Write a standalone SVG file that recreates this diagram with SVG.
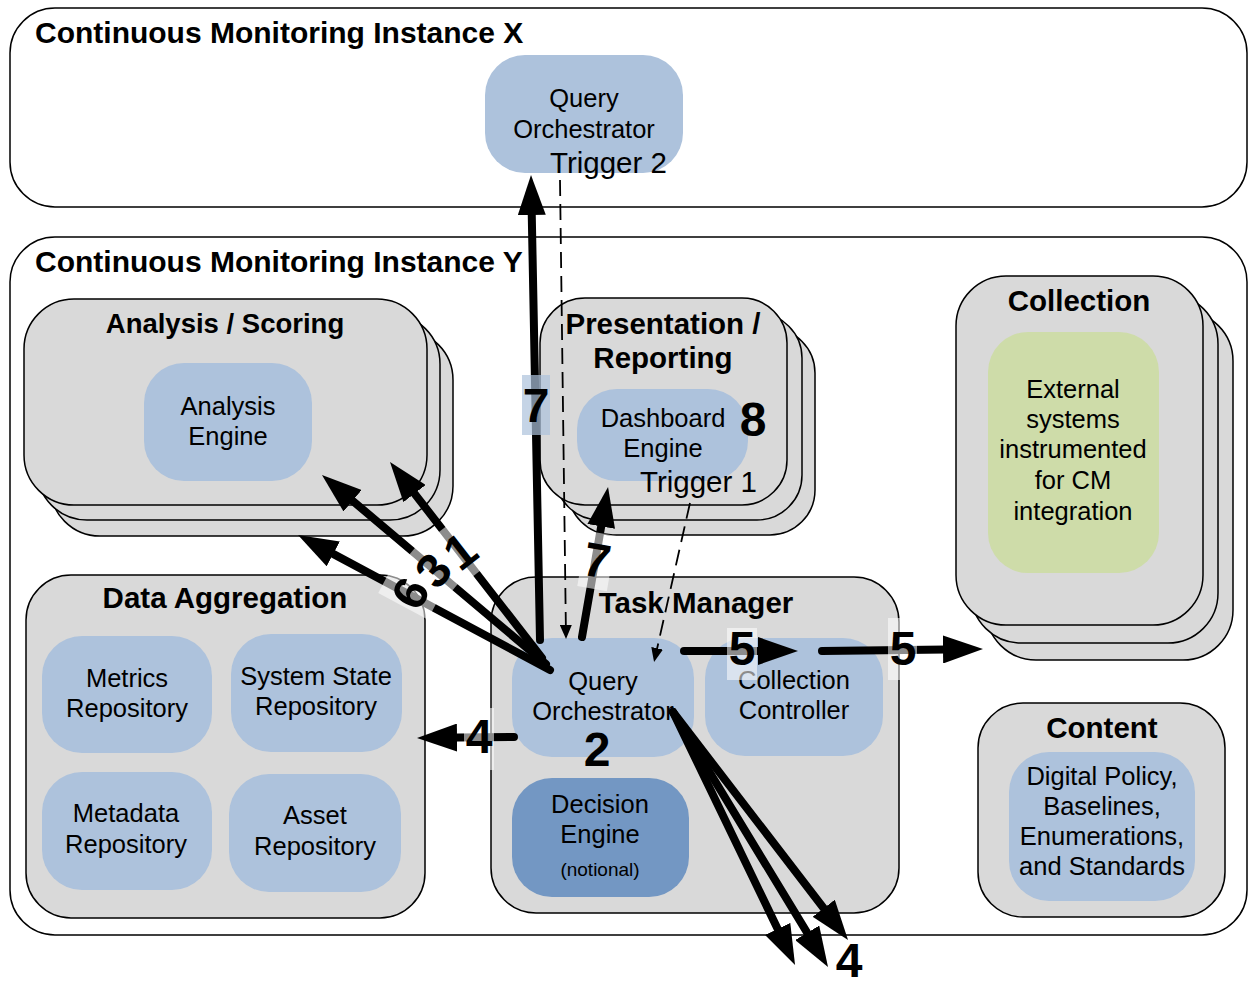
<svg xmlns="http://www.w3.org/2000/svg" width="1249" height="981" viewBox="0 0 1249 981">
<defs>
<marker id="ah" markerUnits="userSpaceOnUse" markerWidth="40" markerHeight="28" refX="24" refY="14" orient="auto"><path d="M0,0 L40,14 L0,28 Z" fill="#000"/></marker>
<marker id="ahs" markerUnits="userSpaceOnUse" markerWidth="14" markerHeight="12" refX="12" refY="6" orient="auto"><path d="M0,0 L14,6 L0,12 Z" fill="#000"/></marker>
</defs>
<style>
.c{fill:#fff;stroke:#000;stroke-width:1.5}
.g{fill:#d9d9d9;stroke:#000;stroke-width:1.5}
.b{fill:#adc2dc}
.db{fill:#7397c3}
.gr{fill:#cedca9}
text{font-family:"Liberation Sans",Arial,sans-serif;fill:#000}
.t{font-size:30px;font-weight:bold}
.tm{font-size:29.5px;font-weight:bold;text-anchor:middle}
.l{font-size:25.5px;text-anchor:middle}
.tr{font-size:29.5px}
.n{font-size:48px;font-weight:bold;text-anchor:middle}
.th{stroke:#000;stroke-width:8;fill:none;stroke-linecap:round;marker-end:url(#ah)}
.ds{stroke:#000;stroke-width:1.8;fill:none;stroke-dasharray:16 8;marker-end:url(#ahs)}
.lb{fill:#fff;opacity:0.55}
.lbb{fill:#adc2dc;opacity:0.7}
</style>
<rect width="1249" height="981" fill="#fff"/>

<g id="instance-x">
<rect class="c" x="10" y="8" width="1237" height="199" rx="45"/>
<text class="t" x="35" y="43">Continuous Monitoring Instance X</text>
</g>
<g id="query-orchestrator-x">
<rect class="b" x="485" y="55" width="198" height="118" rx="40"/>
<text class="l" x="584" y="107">Query</text>
<text class="l" x="584" y="138">Orchestrator</text>
<text class="tr" x="550" y="173">Trigger 2</text>
</g>

<g id="instance-y">
<rect class="c" x="10" y="237" width="1237" height="698" rx="45"/>
<text class="t" x="35" y="272">Continuous Monitoring Instance Y</text>
</g>

<g id="analysis-scoring">
<rect class="g" x="50" y="330" width="403" height="206" rx="50"/>
<rect class="g" x="37" y="314" width="403" height="206" rx="50"/>
<rect class="g" x="24" y="299" width="403" height="206" rx="50"/>
<text class="tm" x="225" y="333" style="font-size:27.5px">Analysis / Scoring</text>
<g id="analysis-engine">
<rect class="b" x="144" y="363" width="168" height="118" rx="40"/>
<text class="l" x="228" y="415">Analysis</text>
<text class="l" x="228" y="445">Engine</text>
</g>
</g>

<g id="presentation-reporting">
<rect class="g" x="568" y="328" width="247" height="207" rx="45"/>
<rect class="g" x="555" y="313" width="247" height="207" rx="45"/>
<rect class="g" x="540" y="298" width="247" height="207" rx="45"/>
<text class="tm" x="663" y="334">Presentation /</text>
<text class="tm" x="663" y="368">Reporting</text>
<g id="dashboard-engine">
<rect class="b" x="577" y="389" width="171" height="92" rx="40"/>
<text class="l" x="663" y="427">Dashboard</text>
<text class="l" x="663" y="457">Engine</text>
<text class="tr" x="640" y="492">Trigger 1</text>
</g>
</g>

<g id="collection">
<rect class="g" x="986" y="311" width="247" height="349" rx="50"/>
<rect class="g" x="971" y="294" width="247" height="349" rx="50"/>
<rect class="g" x="956" y="276" width="247" height="349" rx="50"/>
<text class="tm" x="1079" y="311">Collection</text>
<g id="external-systems">
<rect class="gr" x="988" y="332" width="171" height="241" rx="40"/>
<text class="l" x="1073" y="398">External</text>
<text class="l" x="1073" y="428">systems</text>
<text class="l" x="1073" y="458">instrumented</text>
<text class="l" x="1073" y="489">for CM</text>
<text class="l" x="1073" y="520">integration</text>
</g>
</g>

<g id="data-aggregation">
<rect class="g" x="26" y="575" width="399" height="343" rx="45"/>
<text class="tm" x="225" y="608">Data Aggregation</text>
<g id="metrics-repository">
<rect class="b" x="42" y="636" width="170" height="117" rx="40"/>
<text class="l" x="127" y="687">Metrics</text>
<text class="l" x="127" y="717">Repository</text>
</g>
<g id="system-state-repository">
<rect class="b" x="231" y="634" width="171" height="118" rx="40"/>
<text class="l" x="316" y="685">System State</text>
<text class="l" x="316" y="715">Repository</text>
</g>
<g id="metadata-repository">
<rect class="b" x="42" y="772" width="170" height="118" rx="40"/>
<text class="l" x="126" y="822">Metadata</text>
<text class="l" x="126" y="853">Repository</text>
</g>
<g id="asset-repository">
<rect class="b" x="229" y="774" width="172" height="118" rx="40"/>
<text class="l" x="315" y="824">Asset</text>
<text class="l" x="315" y="855">Repository</text>
</g>
</g>

<g id="task-manager">
<rect class="g" x="491" y="577" width="408" height="336" rx="45"/>
<text class="tm" x="696" y="613">Task Manager</text>
<g id="query-orchestrator-y">
<rect class="b" x="512" y="638" width="182" height="119" rx="40"/>
<text class="l" x="603" y="690">Query</text>
<text class="l" x="603" y="720">Orchestrator</text>
</g>
<g id="collection-controller">
<rect class="b" x="705" y="638" width="178" height="118" rx="40"/>
<text class="l" x="794" y="689">Collection</text>
<text class="l" x="794" y="719">Controller</text>
</g>
<g id="decision-engine">
<rect class="db" x="512" y="778" width="177" height="119" rx="40"/>
<text class="l" x="600" y="813">Decision</text>
<text class="l" x="600" y="843">Engine</text>
<text class="l" x="600" y="876" style="font-size:19px">(notional)</text>
</g>
</g>

<g id="content">
<rect class="g" x="978" y="703" width="247" height="214" rx="45"/>
<text class="tm" x="1102" y="738">Content</text>
<g id="digital-policy">
<rect class="b" x="1009" y="752" width="186" height="149" rx="40"/>
<text class="l" x="1102" y="785">Digital Policy,</text>
<text class="l" x="1102" y="815">Baselines,</text>
<text class="l" x="1102" y="845">Enumerations,</text>
<text class="l" x="1102" y="875">and Standards</text>
</g>
</g>

<g id="connectors">
<line class="th" x1="540" y1="640" x2="531.3" y2="191"/>
<line class="ds" x1="560" y1="180" x2="566" y2="637"/>
<line class="th" x1="582" y1="637" x2="605.3" y2="502.8"/>
<line class="ds" x1="690" y1="503" x2="654.5" y2="660"/>
<line class="th" x1="684" y1="651" x2="782" y2="651"/>
<line class="th" x1="822" y1="651" x2="967" y2="649.2"/>
<line class="th" x1="514" y1="737" x2="433" y2="737.8"/>
<line class="th" x1="673" y1="712" x2="788.1" y2="950.6"/>
<line class="th" x1="673" y1="712" x2="819.7" y2="953.3"/>
<line class="th" x1="673" y1="712" x2="838.3" y2="927.3"/>
<line class="th" x1="550" y1="670" x2="312.1" y2="542.6"/>
<line class="th" x1="546" y1="664" x2="334.2" y2="485.3"/>
<line class="th" x1="542" y1="658" x2="399.8" y2="474.6"/>

<rect class="lbb" x="522" y="375" width="28" height="60"/>
<text class="n" x="536" y="422">7</text>
<g transform="rotate(9.8 597 560)">
<rect class="lb" x="582" y="533" width="30" height="56"/>
<text class="n" x="597" y="577">7</text>
</g>
<rect class="lb" x="727" y="628" width="30" height="52"/>
<text class="n" x="742" y="665">5</text>
<rect class="lb" x="888" y="618" width="29" height="62"/>
<text class="n" x="903" y="665">5</text>
<rect class="lb" x="464" y="708" width="30" height="62"/>
<text class="n" x="479" y="753">4</text>
<g transform="rotate(-62 410 593)">
<rect class="lb" x="395" y="565" width="30" height="56"/>
<text class="n" x="410" y="610">6</text>
</g>
<g transform="rotate(-50 433 570)">
<rect class="lb" x="418" y="542" width="30" height="56"/>
<text class="n" x="433" y="587">3</text>
</g>
<g transform="rotate(-38 460 551)">
<rect class="lb" x="445" y="523" width="30" height="56"/>
<text class="n" x="460" y="568">1</text>
</g>
<text class="n" x="849" y="977">4</text>
</g>

<g id="step-labels">
<text class="n" x="753" y="436">8</text>
<text class="n" x="597" y="766">2</text>
</g>
</svg>
